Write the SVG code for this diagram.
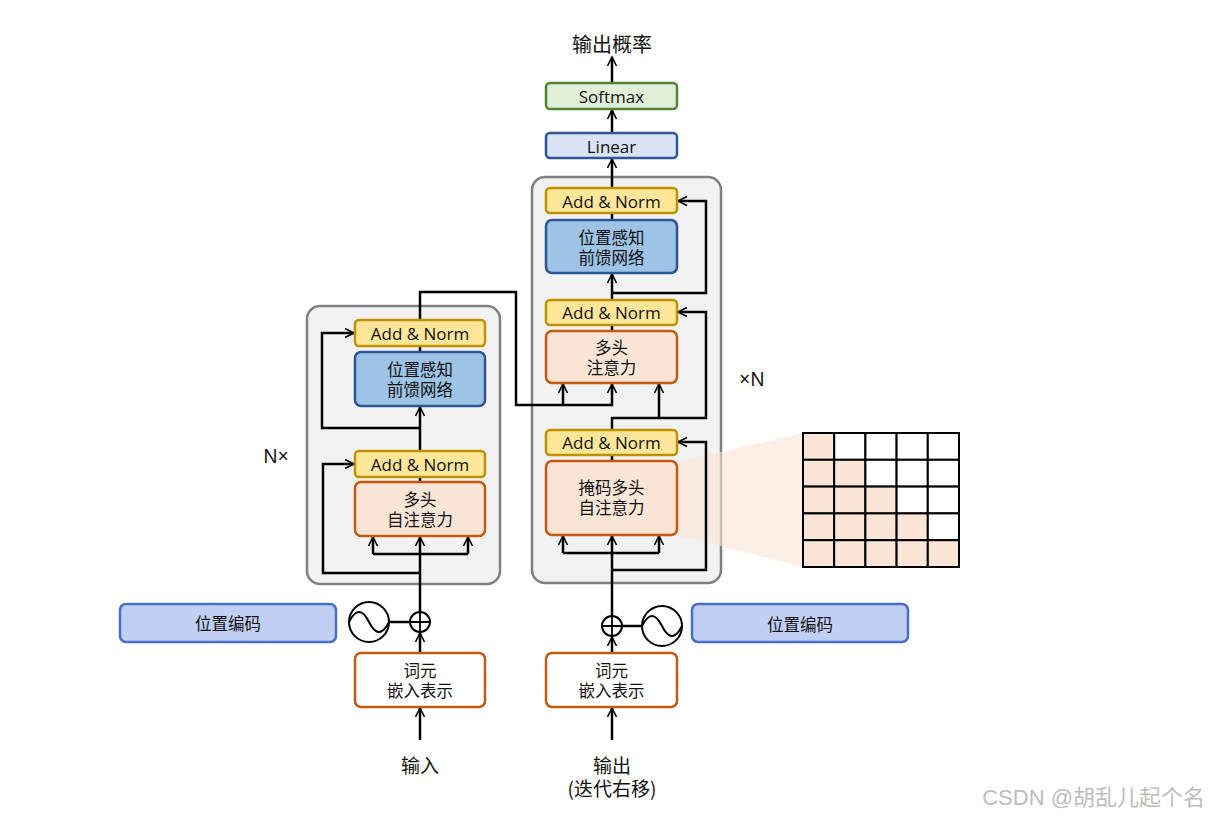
<svg xmlns="http://www.w3.org/2000/svg" width="1211" height="816" viewBox="0 0 1211 816">
<defs>
<style>
text{font-family:"Open Sans","Noto Sans CJK SC",sans-serif;fill:#111;text-anchor:middle;dominant-baseline:central}
.cn{font-family:"Noto Sans CJK SC","Noto Sans",sans-serif;font-size:16.5px}
.en{font-size:17px}
.gray{fill:#f2f2f2;stroke:#808080;stroke-width:2.5}
.an{fill:#ffe699;stroke:#bf9000;stroke-width:2.5}
.ffn{fill:#9dc3e6;stroke:#2f5597;stroke-width:2.5}
.mha{fill:#fbe5d6;stroke:#c55a11;stroke-width:2.5}
.emb{fill:#fff;stroke:#c55a11;stroke-width:2.5}
.pe{fill:#c2cff5;stroke:#4472c4;stroke-width:2.5}
.lin{fill:#dae3f3;stroke:#2f5597;stroke-width:2.5}
.sm{fill:#e2f0d9;stroke:#548235;stroke-width:2.5}
.ln{fill:none;stroke:#000;stroke-width:2.5}
.ar{fill:none;stroke:#000;stroke-width:2.5;marker-end:url(#ah)}
.circ{fill:#fff;stroke:#000;stroke-width:2}
.cell{stroke:#000;stroke-width:2}
</style>
<marker id="ah" viewBox="0 0 12 12" refX="10" refY="6" markerWidth="12" markerHeight="12" markerUnits="userSpaceOnUse" orient="auto">
<path d="M1,1.5 L10,6 L1,10.5" fill="none" stroke="#000" stroke-width="1.6"/>
</marker>
</defs>

<g id="encoder-block"><rect class="gray" x="307" y="306" width="193" height="278" rx="13"/></g>
<g id="decoder-block"><rect class="gray" x="532" y="177" width="189" height="406" rx="13"/></g>

<g id="mask-wedge"><polygon points="677,462 803,433 803,567 677,535" fill="#fbe5d6" opacity="0.6"/></g>

<g id="connectors">
<path class="ar" d="M420,740 L420,708"/>
<path class="ar" d="M420,653 L420,633"/>
<path class="ln" d="M389,622 L410,622"/>
<path class="ar" d="M420,612 L420,537"/>
<path class="ar" d="M420,573 L323,573 L323,464 L354,464"/>
<path class="ln" d="M373,554 L468,554"/>
<path class="ar" d="M373,554 L373,537"/>
<path class="ar" d="M468,554 L468,537"/>
<path class="ln" d="M420,482 L420,477"/>
<path class="ar" d="M420,451 L420,407"/>
<path class="ar" d="M420,428 L322,428 L322,333 L354,333"/>
<path class="ln" d="M420,352 L420,346"/>
<path class="ar" d="M420,320 L420,292 L516,292 L516,405 L612,405 L612,384"/>
<path class="ar" d="M563,405 L563,384"/>
<path class="ar" d="M612,740 L612,708"/>
<path class="ar" d="M612,653 L612,637"/>
<path class="ln" d="M622,626 L642,626"/>
<path class="ar" d="M612,616 L612,536"/>
<path class="ar" d="M612,570 L706,570 L706,442 L678,442"/>
<path class="ln" d="M563,553 L659,553"/>
<path class="ar" d="M563,553 L563,536"/>
<path class="ar" d="M659,553 L659,536"/>
<path class="ln" d="M612,461 L612,455"/>
<path class="ar" d="M612,430 L612,418 L706,418 L706,312 L678,312"/>
<path class="ar" d="M659,418 L659,384"/>
<path class="ln" d="M612,331 L612,325"/>
<path class="ar" d="M612,300 L612,274"/>
<path class="ar" d="M612,293 L706,293 L706,201 L678,201"/>
<path class="ln" d="M612,220 L612,213"/>
<path class="ar" d="M612,188 L612,159"/>
<path class="ar" d="M612,133 L612,110"/>
<path class="ar" d="M612,83 L612,57"/>
</g>

<g id="enc-an2"><rect class="an" x="355" y="320" width="130" height="26" rx="4"/><text class="en" x="420" y="333">Add &amp; Norm</text></g>
<g id="enc-ffn"><rect class="ffn" x="355" y="352" width="130" height="54" rx="6"/><text class="cn" x="420" y="369">位置感知</text><text class="cn" x="420" y="389">前馈网络</text></g>
<g id="enc-an1"><rect class="an" x="355" y="451" width="130" height="26" rx="4"/><text class="en" x="420" y="464">Add &amp; Norm</text></g>
<g id="enc-mha"><rect class="mha" x="355" y="482" width="130" height="54" rx="6"/><text class="cn" x="420" y="499">多头</text><text class="cn" x="420" y="519">自注意力</text></g>
<g id="enc-emb"><rect class="emb" x="355" y="653" width="130" height="54" rx="6"/><text class="cn" x="420" y="670">词元</text><text class="cn" x="420" y="690">嵌入表示</text></g>
<g id="enc-pe"><rect class="pe" x="120" y="604" width="216" height="38" rx="6"/><text class="cn" x="228" y="623">位置编码</text></g>
<g id="enc-sin"><circle class="circ" cx="369" cy="622" r="20"/><path d="M349,622 Q359,602 369,622 T389,622" fill="none" stroke="#000" stroke-width="2"/></g>
<g id="enc-plus"><circle class="circ" cx="420" cy="622" r="10"/><path d="M410,622 L430,622 M420,612 L420,632" stroke="#000" stroke-width="1.8"/></g>
<g id="enc-input"><text class="cn" x="420" y="764" style="font-size:19px">输入</text></g>
<g id="enc-n"><text x="276" y="456" style="font-size:19px;font-family:'Noto Sans',sans-serif">N×</text></g>

<g id="dec-an3"><rect class="an" x="546" y="188" width="131" height="25" rx="4"/><text class="en" x="611.5" y="201">Add &amp; Norm</text></g>
<g id="dec-ffn"><rect class="ffn" x="546" y="220" width="131" height="53" rx="6"/><text class="cn" x="611.5" y="237">位置感知</text><text class="cn" x="611.5" y="257">前馈网络</text></g>
<g id="dec-an2"><rect class="an" x="546" y="300" width="131" height="25" rx="4"/><text class="en" x="611.5" y="312">Add &amp; Norm</text></g>
<g id="dec-mha"><rect class="mha" x="546" y="331" width="131" height="52" rx="6"/><text class="cn" x="611.5" y="347">多头</text><text class="cn" x="611.5" y="367">注意力</text></g>
<g id="dec-an1"><rect class="an" x="546" y="430" width="131" height="25" rx="4"/><text class="en" x="611.5" y="442">Add &amp; Norm</text></g>
<g id="dec-mmha"><rect class="mha" x="546" y="461" width="131" height="74" rx="6"/><text class="cn" x="611.5" y="487">掩码多头</text><text class="cn" x="611.5" y="507">自注意力</text></g>
<g id="dec-emb"><rect class="emb" x="546" y="653" width="131" height="54" rx="6"/><text class="cn" x="611.5" y="670">词元</text><text class="cn" x="611.5" y="690">嵌入表示</text></g>
<g id="dec-pe"><rect class="pe" x="692" y="604" width="216" height="38" rx="6"/><text class="cn" x="800" y="624">位置编码</text></g>
<g id="dec-sin"><circle class="circ" cx="662" cy="626" r="20"/><path d="M642,626 Q652,606 662,626 T682,626" fill="none" stroke="#000" stroke-width="2"/></g>
<g id="dec-plus"><circle class="circ" cx="612" cy="626" r="10"/><path d="M602,626 L622,626 M612,616 L612,636" stroke="#000" stroke-width="1.8"/></g>
<g id="dec-output"><text class="cn" x="612" y="764" style="font-size:19px">输出</text><text class="cn" x="612" y="787" style="font-size:19px">(迭代右移)</text></g>
<g id="dec-n"><text x="752" y="379" style="font-size:19px;font-family:'Noto Sans',sans-serif">×N</text></g>

<g id="linear"><rect class="lin" x="546" y="133" width="131" height="25" rx="4"/><text class="en" x="611.5" y="146">Linear</text></g>
<g id="softmax"><rect class="sm" x="546" y="83" width="131" height="26" rx="4"/><text class="en" x="611.5" y="96">Softmax</text></g>
<g id="prob"><text class="cn" x="612" y="43" style="font-size:20px">输出概率</text></g>

<g id="mask-grid">
<rect class="cell" x="803" y="433" width="31.2" height="26.8" fill="#fbe5d6"/>
<rect class="cell" x="834.2" y="433" width="31.2" height="26.8" fill="#fff"/>
<rect class="cell" x="865.4" y="433" width="31.2" height="26.8" fill="#fff"/>
<rect class="cell" x="896.6" y="433" width="31.2" height="26.8" fill="#fff"/>
<rect class="cell" x="927.8" y="433" width="31.2" height="26.8" fill="#fff"/>
<rect class="cell" x="803" y="459.8" width="31.2" height="26.8" fill="#fbe5d6"/>
<rect class="cell" x="834.2" y="459.8" width="31.2" height="26.8" fill="#fbe5d6"/>
<rect class="cell" x="865.4" y="459.8" width="31.2" height="26.8" fill="#fff"/>
<rect class="cell" x="896.6" y="459.8" width="31.2" height="26.8" fill="#fff"/>
<rect class="cell" x="927.8" y="459.8" width="31.2" height="26.8" fill="#fff"/>
<rect class="cell" x="803" y="486.6" width="31.2" height="26.8" fill="#fbe5d6"/>
<rect class="cell" x="834.2" y="486.6" width="31.2" height="26.8" fill="#fbe5d6"/>
<rect class="cell" x="865.4" y="486.6" width="31.2" height="26.8" fill="#fbe5d6"/>
<rect class="cell" x="896.6" y="486.6" width="31.2" height="26.8" fill="#fff"/>
<rect class="cell" x="927.8" y="486.6" width="31.2" height="26.8" fill="#fff"/>
<rect class="cell" x="803" y="513.4" width="31.2" height="26.8" fill="#fbe5d6"/>
<rect class="cell" x="834.2" y="513.4" width="31.2" height="26.8" fill="#fbe5d6"/>
<rect class="cell" x="865.4" y="513.4" width="31.2" height="26.8" fill="#fbe5d6"/>
<rect class="cell" x="896.6" y="513.4" width="31.2" height="26.8" fill="#fbe5d6"/>
<rect class="cell" x="927.8" y="513.4" width="31.2" height="26.8" fill="#fff"/>
<rect class="cell" x="803" y="540.2" width="31.2" height="26.8" fill="#fbe5d6"/>
<rect class="cell" x="834.2" y="540.2" width="31.2" height="26.8" fill="#fbe5d6"/>
<rect class="cell" x="865.4" y="540.2" width="31.2" height="26.8" fill="#fbe5d6"/>
<rect class="cell" x="896.6" y="540.2" width="31.2" height="26.8" fill="#fbe5d6"/>
<rect class="cell" x="927.8" y="540.2" width="31.2" height="26.8" fill="#fbe5d6"/>
</g>

<g id="watermark"><text x="1205" y="797" style="font-size:22px;fill:#bdbdbd;text-anchor:end;font-family:'Liberation Sans','Noto Sans CJK SC',sans-serif">CSDN @胡乱儿起个名</text></g>
</svg>
